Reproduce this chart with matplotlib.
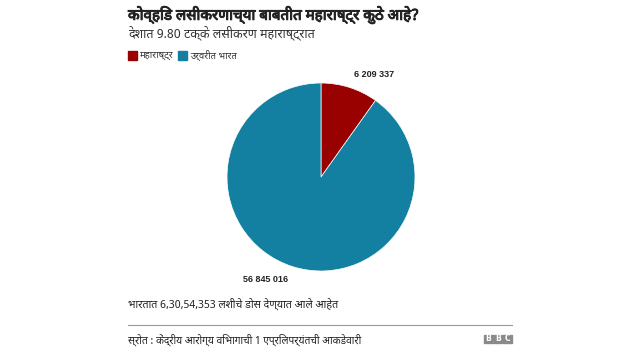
import matplotlib
matplotlib.use("Agg")
import matplotlib.pyplot as plt
import matplotlib.patheffects as pe
from matplotlib import font_manager as fm
from matplotlib.patches import Rectangle

# ── Data ──
regions = ["महाराष्ट्र", "उर्वरीत भारत"]
doses = [6209337, 56845016]
dose_labels = ["6 209 337", "56 845 016"]
colors = ["#990000", "#1380A1"]

title = "कोव्हिड लसीकरणाच्या बाबतीत महाराष्ट्र कुठे आहे?"
subtitle = "देशात 9.80 टक्के लसीकरण महाराष्ट्रात"
note = "भारतात 6,30,54,353 लशीचे डोस देण्यात आले आहेत"
source = "स्रोत : केंद्रीय आरोग्य विभागाची 1 एप्रिलपर्यंतची आकडेवारी"

# pick up a Devanagari font if one is installed (Noto first), else the usual ones
deva = sorted({f.name for f in fm.fontManager.ttflist if "Devanagari" in f.name},
              key=lambda n: (not n.startswith("Noto"), n))
plt.rcParams["font.family"] = deva + ["Noto Sans", "DejaVu Sans"]

fig = plt.figure(figsize=(6.4, 3.6), dpi=100)

# ── Header ──
# the Devanagari face has no bold weight, so thicken the title with a stroke
fig.text(128 / 640, 1 - 15 / 360, title, fontsize=10.9, fontweight="bold",
         color="#222222", va="center", ha="left",
         path_effects=[pe.withStroke(linewidth=0.7, foreground="#222222")])
fig.text(128 / 640, 1 - 33 / 360, subtitle, fontsize=9, color="#333333",
         va="center", ha="left")

# ── Legend ──
leg_x = [128, 178]
for x, lab, c in zip(leg_x, regions, colors):
    fig.patches.append(Rectangle((x / 640, 1 - 60 / 360), 9 / 640, 9 / 360,
                                 transform=fig.transFigure, color=c))
    fig.text((x + 12) / 640, 1 - 55.5 / 360, lab, fontsize=6.8,
             color="#333333", va="center", ha="left")

# ── Pie ──
ax = fig.add_axes([227 / 640, 1 - 271 / 360, 188 / 640, 188 / 360])
wedges, texts = ax.pie(doses, colors=colors, startangle=90, counterclock=False,
                       labels=dose_labels, labeldistance=1.15,
                       wedgeprops=dict(linewidth=0.5, edgecolor="white"),
                       textprops=dict(fontsize=6.5, fontweight="bold",
                                      color="#222222", family="Liberation Sans"))
ax.set_xlim(-1, 1)
ax.set_ylim(-1, 1)
ax.set_aspect("equal")

# ── Footer ──
fig.text(128 / 640, 1 - 304 / 360, note, fontsize=7.7, color="#222222",
         va="center", ha="left")
fig.add_artist(plt.Line2D([128 / 640, 512 / 640], [1 - 325 / 360, 1 - 325 / 360],
                          transform=fig.transFigure, color="#999999", linewidth=0.8))
fig.text(128 / 640, 1 - 340 / 360, source, fontsize=7.4, color="#222222",
         va="center", ha="left")

# BBC blocks
for i, letter in enumerate("BBC"):
    x0 = 484 + i * 9.5
    fig.patches.append(Rectangle((x0 / 640, 1 - 343 / 360), 8.5 / 640, 8.5 / 360,
                                 transform=fig.transFigure, color="#8a8a8a"))
    fig.text((x0 + 4.25) / 640, 1 - 338.8 / 360, letter, fontsize=5.5,
             fontweight="bold", color="white", ha="center", va="center",
             family="DejaVu Sans")

fig.savefig("out.png", dpi=100, facecolor="white")
